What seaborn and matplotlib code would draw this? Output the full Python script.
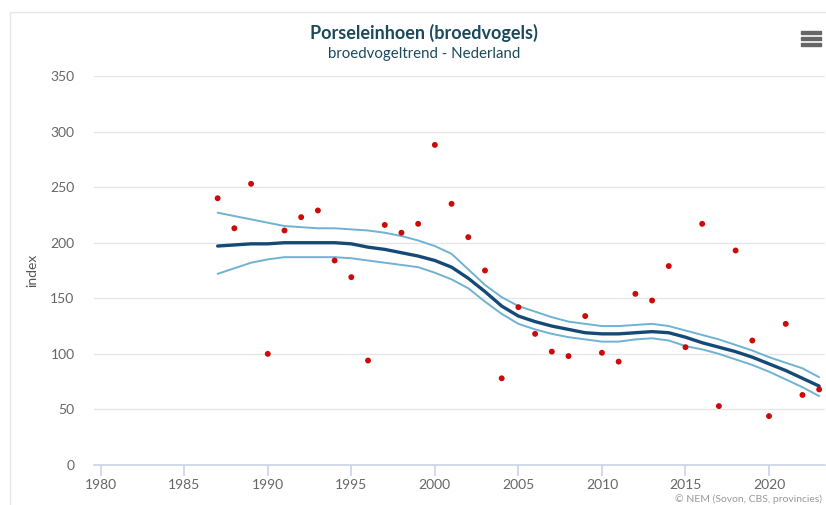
import seaborn as sns
import matplotlib.pyplot as plt
import pandas as pd
from matplotlib.patches import Rectangle

years = list(range(1987, 2024))

# yearly index values (red dots)
index_pts = [240, 213, 253, 100, 211, 223, 229, 184, 169, 94, 216, 209, 217,
             288, 235, 205, 175, 78, 142, 118, 102, 98, 134, 101, 93, 154,
             148, 179, 106, 217, 53, 193, 112, 44, 127, 63, 68]

# trend line and its confidence band
trend = [197, 198, 199, 199, 200, 200, 200, 200, 199, 196, 194, 191, 188,
         184, 178, 168, 156, 143, 134, 129, 125, 122, 119, 118, 118, 119,
         120, 119, 115, 110, 106, 102, 97, 91, 85, 78, 71]
upper = [227, 224, 221, 218, 215, 214, 213, 213, 212, 211, 209, 206, 202,
         197, 190, 176, 162, 151, 143, 138, 133, 129, 127, 125, 125, 126,
         127, 125, 121, 117, 113, 108, 103, 97, 92, 87, 79]
lower = [172, 177, 182, 185, 187, 187, 187, 187, 186, 184, 182, 180, 178,
         173, 167, 159, 147, 136, 127, 122, 118, 115, 113, 111, 111, 113,
         114, 112, 107, 104, 100, 95, 90, 84, 77, 70, 62]

df = pd.DataFrame({"jaar": years, "index": index_pts, "trend": trend,
                   "upper": upper, "lower": lower})

sns.set_theme(style="white")
plt.rcParams['font.family'] = ['Lato', 'DejaVu Sans']

fig = plt.figure(figsize=(8.26, 5.05), dpi=100)
ax = fig.add_axes([94 / 826, 40 / 505, 731 / 826, 389 / 505])

# light frame around the chart
fig.patches.append(Rectangle((10 / 826, -0.1), 1.1, 1 - 12 / 505 + 0.1,
                             transform=fig.transFigure, fill=False,
                             edgecolor="#e6e6e6", linewidth=1.0))

sns.lineplot(data=df, x="jaar", y="upper", color="#6fb2d2", linewidth=1.4, ax=ax)
sns.lineplot(data=df, x="jaar", y="lower", color="#6fb2d2", linewidth=1.4, ax=ax)
sns.lineplot(data=df, x="jaar", y="trend", color="#154a78", linewidth=2.4, ax=ax)
sns.scatterplot(data=df, x="jaar", y="index", color="#cc0a0a", s=18,
                edgecolor="none", ax=ax, zorder=5)

ax.set_xlim(1979.6, 2023.35)
ax.set_ylim(0, 350)
ax.set_xticks(range(1980, 2021, 5))
ax.set_yticks(range(0, 351, 50))
ax.yaxis.grid(True, color="#e6e6e6", linewidth=1)
ax.set_axisbelow(True)
for side in ["top", "right", "left"]:
    ax.spines[side].set_visible(False)
ax.spines["bottom"].set_color("#ccd6eb")
ax.tick_params(axis="x", length=8, color="#ccd6eb", colors="#666666",
               labelsize=10, pad=2, direction="out", bottom=True)
ax.tick_params(axis="y", length=0, colors="#666666", labelsize=10, pad=14)
ax.set_xlabel("")
ax.set_ylabel("index", color="#555555", fontsize=10, labelpad=9)

fig.text(424 / 826, 1 - 33 / 505, "Porseleinhoen (broedvogels)", ha="center",
         va="center", fontsize=13, fontweight="bold", color="#1b4a5c")
fig.text(424 / 826, 1 - 54 / 505, "broedvogeltrend - Nederland", ha="center",
         va="center", fontsize=10.8, color="#1b4a5c")
fig.text(1 - 4 / 826, 1 - 499 / 505, "© NEM (Sovon, CBS, provincies)",
         ha="right", va="center", fontsize=7.5, color="#999999")

# menu icon
for dy in (32, 38, 44):
    fig.patches.append(Rectangle((801 / 826, 1 - (dy + 1.5) / 505), 20 / 826,
                                 3 / 505, transform=fig.transFigure,
                                 color="#666666"))

fig.savefig("out.png", dpi=100)
